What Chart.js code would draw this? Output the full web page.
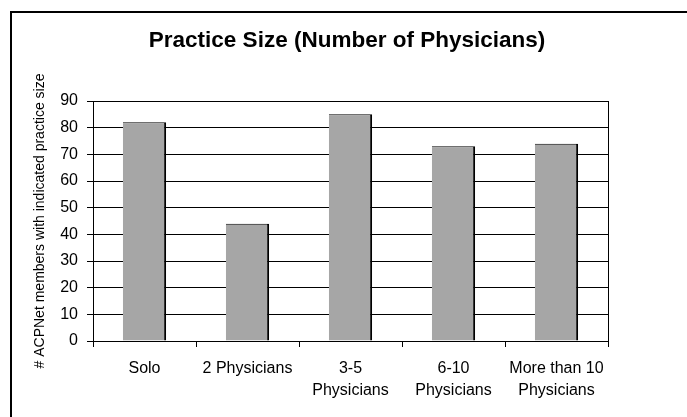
<!DOCTYPE html>
<html>
<head>
<meta charset="utf-8">
<script src="https://cdn.jsdelivr.net/npm/chart.js@4"></script>
<style>
  html, body { margin: 0; padding: 0; background: #fff; }
  #wrap { position: relative; width: 687px; height: 417px; overflow: hidden; }
  #frame { position: absolute; left: 10px; top: 11px; width: 700px; height: 420px;
           border-top: 2px solid #000; border-left: 2px solid #000; }
  canvas { position: absolute; left: 0; top: 0; }
</style>
</head>
<body>
<div id="wrap">
  <div id="frame"></div>
  <canvas id="practiceChart" width="687" height="417"></canvas>
</div>
<script>
const categories = [['Solo'], ['2 Physicians'], ['3-5', 'Physicians'], ['6-10', 'Physicians'], ['More than 10', 'Physicians']];
const members = [82, 44, 85, 73, 74];
const yMin = 0;
const yMax = 90;
const yStep = 10;

document.addEventListener('DOMContentLoaded', () => {
  const ctx = document.getElementById('practiceChart');

  new Chart(ctx, {
    type: 'bar',
    data: {
      labels: categories,
      datasets: [
        {
          label: 'Members',
          data: members,
          backgroundColor: '#a6a6a6',
          borderColor: '#000',
          borderWidth: { top: 1, right: 2, left: 0, bottom: 0 },
          borderSkipped: false,
          categoryPercentage: 1,
          barPercentage: 0.42,
        },
      ],
    },
    options: {
      responsive: false,
      animation: false,
      layout: { padding: { left: 7, right: 0, top: 0, bottom: 0 } },
      plugins: {
        legend: { display: false },
        tooltip: { enabled: false },
        title: {
          display: true,
          text: 'Practice Size (Number of Physicians)',
          color: '#000',
          font: { family: 'Liberation Sans, Arial', size: 22.5, weight: 'bold' },
          padding: { top: 27, bottom: 47 },
        },
      },
      scales: {
        x: {
          grid: { display: true, offset: true, drawOnChartArea: false, tickLength: 6, color: '#000' },
          border: { color: '#000', width: 1 },
          ticks: {
            color: '#000',
            padding: 10,
            maxRotation: 0,
            autoSkip: false,
            font: { family: 'Liberation Sans, Arial', size: 16, lineHeight: 1.42 },
          },
          afterFit: (scale) => { scale.height = 76; },
        },
        y: {
          min: yMin,
          max: yMax,
          ticks: {
            stepSize: yStep,
            color: '#000',
            padding: 9,
            font: { family: 'Liberation Sans, Arial', size: 16 },
          },
          grid: { color: '#000', tickLength: 6 },
          border: { color: '#000', width: 1 },
          title: {
            display: true,
            text: '# ACPNet members with indicated practice size',
            color: '#000',
            font: { family: 'Liberation Sans, Arial', size: 14 },
            padding: { top: 25, bottom: 0 },
          },
          afterFit: (scale) => { scale.width = 86; },
        },
        y2: {
          position: 'right',
          display: true,
          ticks: { display: false },
          grid: { drawOnChartArea: false, drawTicks: false },
          border: { color: '#000', width: 1 },
          afterFit: (scale) => { scale.width = 79; },
        },
      },
    },
  });
});
</script>
</body>
</html>
